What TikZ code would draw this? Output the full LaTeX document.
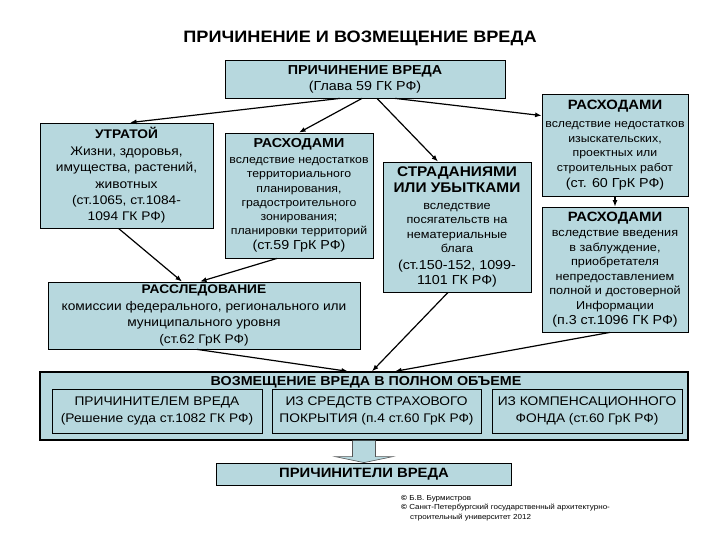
\documentclass[tikz,border=0pt]{standalone}
\usepackage{fontspec}
\setmainfont[FakeStretch=1.1]{Liberation Sans}
\usetikzlibrary{arrows.meta,positioning,calc}
\definecolor{boxfill}{HTML}{B7D8DE}
\definecolor{inkgray}{HTML}{555555}

\newcommand{\fs}[2]{\fontsize{#1}{#2}\selectfont}

\begin{document}
\begin{tikzpicture}[
  x=1pt, y=-1pt,
  font=\fs{12.5}{16},
  box/.style  = {draw=black, line width=0.8pt, fill=boxfill, align=center, inner sep=0pt},
  big/.style  = {draw=black, line width=1.3pt, fill=boxfill, inner sep=0pt},
  ln/.style   = {-{Latex[length=6.5pt,width=5pt]}, draw=black, line width=1.2pt},
  blk/.style  = {draw=inkgray, line width=0.6pt, fill=boxfill},
  hd/.style   = {font=\fs{13.5}{16}\bfseries},
]
\useasboundingbox (0,0) rectangle (720,540);

% --- title and the cause -------------------------------------------------------------------------
\node[font=\fs{16.5}{20}\bfseries] (title) at (360,38) {ПРИЧИНЕНИЕ И ВОЗМЕЩЕНИЕ ВРЕДА};
\node[box, minimum width=280pt, minimum height=38pt, font=\fs{13}{16}] (harm) at (365,79)
  {{\bfseries ПРИЧИНЕНИЕ ВРЕДА}\\(Глава 59 ГК РФ)};

% --- kinds of harm -------------------------------------------------------------------------------
\node[box, minimum width=173pt, minimum height=105pt, font=\fs{12.5}{16.4}] (loss) at (126.5,175.5)
  {{\bfseries УТРАТОЙ}\\Жизни, здоровья,\\имущества, растений,\\животных\\(ст.1065, ст.1084-\\1094 ГК РФ)};
\node[box, minimum width=148pt, minimum height=125pt, font=\fs{11.2}{14.2}] (planexp) at (299,195.5)
  {{\fs{13}{16}\bfseries РАСХОДАМИ}\\[2pt]вследствие недостатков\\территориального\\планирования,\\градостроительного\\зонирования;\\планировки территорий\\[1pt]{\fs{13}{16}(ст.59 ГрК РФ)}};
\node[box, minimum width=148pt, minimum height=130pt, font=\fs{11.5}{14.5}] (moral) at (457,227)
  {{\fs{14}{17}\bfseries СТРАДАНИЯМИ}\\[2pt]{\fs{14}{17}\bfseries ИЛИ УБЫТКАМИ}\\[2pt]вследствие\\посягательств на\\нематериальные\\блага\\[2pt]{\fs{13}{16}(ст.150-152, 1099-}\\[1pt]{\fs{13}{16}1101 ГК РФ)}};
\node[box, minimum width=146pt, minimum height=102pt, font=\fs{11.2}{14.5}] (surveyexp) at (615,145)
  {{\fs{13.5}{16}\bfseries РАСХОДАМИ}\\[4pt]вследствие недостатков\\изыскательских,\\проектных или\\строительных работ\\[2pt]{\fs{13}{16}(ст. 60 ГрК РФ)}};
\node[box, minimum width=146pt, minimum height=125pt, font=\fs{11.5}{14.5}] (misleadexp) at (615,269.5)
  {{\fs{13.5}{16}\bfseries РАСХОДАМИ}\\[1pt]вследствие введения\\в заблуждение,\\приобретателя\\непредоставлением\\полной и достоверной\\Информации\\[1pt]{\fs{13}{16}(п.3 ст.1096 ГК РФ)}};
\node[box, minimum width=312pt, minimum height=67pt, font=\fs{12.5}{16.5}] (inquiry) at (204,315.5)
  {{\bfseries РАССЛЕДОВАНИЕ}\\комиссии федерального, регионального или\\муниципального уровня\\(ст.62 ГрК РФ)};

% --- compensation ----------------------------------------------------------------------------------
\node[big, minimum width=648pt, minimum height=68pt] (fullcomp) at (364,406) {};
\node[font=\fs{13}{16}\bfseries] (fulltitle) at (366,382) {ВОЗМЕЩЕНИЕ ВРЕДА В ПОЛНОМ ОБЪЕМЕ};
\node[box, minimum width=210pt, minimum height=44pt, font=\fs{12.5}{17}] (bycausr) at (157,411)
  {ПРИЧИНИТЕЛЕМ ВРЕДА\\(Решение суда ст.1082 ГК РФ)};
\node[box, minimum width=209pt, minimum height=44pt, font=\fs{12.5}{17}] (byinsur) at (376.5,411)
  {ИЗ СРЕДСТВ СТРАХОВОГО\\ПОКРЫТИЯ (п.4 ст.60 ГрК РФ)};
\node[box, minimum width=190pt, minimum height=44pt, font=\fs{12.5}{17}] (byfund) at (587,411)
  {ИЗ КОМПЕНСАЦИОННОГО\\ФОНДА (ст.60 ГрК РФ)};
\node[box, minimum width=295pt, minimum height=22pt, hd] (culprits) at (364,474) {ПРИЧИНИТЕЛИ ВРЕДА};

\node[anchor=north west, align=left, font=\fs{7.3}{9.5}, inner sep=0pt] (note) at (401,495)
  {{\bfseries ©} Б.В. Бурмистров\\{\bfseries ©} Санкт-Петербургский государственный архитектурно-\\\hspace*{9pt}строительный университет 2012};

% --- connectors ------------------------------------------------------------------------------------
\draw[ln] ([xshift=-25pt]harm.south) -- ([xshift=3.5pt]loss.north);
\draw[ln] ([xshift=-3pt]harm.south) -- (planexp.north);
\draw[ln] ([xshift=12pt]harm.south) -- ([xshift=-19pt]moral.north);
\draw[ln] ([xshift=30pt]harm.south) -- ([yshift=-22pt]surveyexp.north west);
\draw[ln] (surveyexp.south) -- (misleadexp.north);
\draw[ln] ([xshift=-8pt]loss.south) -- ([xshift=-22pt]inquiry.north);
\draw[ln] ([xshift=-22pt]planexp.south) -- ([xshift=-4pt]inquiry.north);
\draw[ln] ([xshift=-7pt]inquiry.south) -- ([xshift=-16pt]fullcomp.north);
\draw[ln] ([xshift=-9pt]moral.south) -- ([xshift=8pt]fullcomp.north);
\draw[ln] ([xshift=-5pt]misleadexp.south) -- ([xshift=31pt]fullcomp.north);

% block arrow down to the culprits
\draw[blk] ([xshift=-11.5pt]fullcomp.south) -- ([xshift=-11.5pt,yshift=6pt]culprits.north)
  -- ([xshift=-29pt,yshift=6pt]culprits.north) -- (culprits.north)
  -- ([xshift=29pt,yshift=6pt]culprits.north) -- ([xshift=11.5pt,yshift=6pt]culprits.north)
  -- ([xshift=11.5pt]fullcomp.south);

\end{tikzpicture}
\end{document}
